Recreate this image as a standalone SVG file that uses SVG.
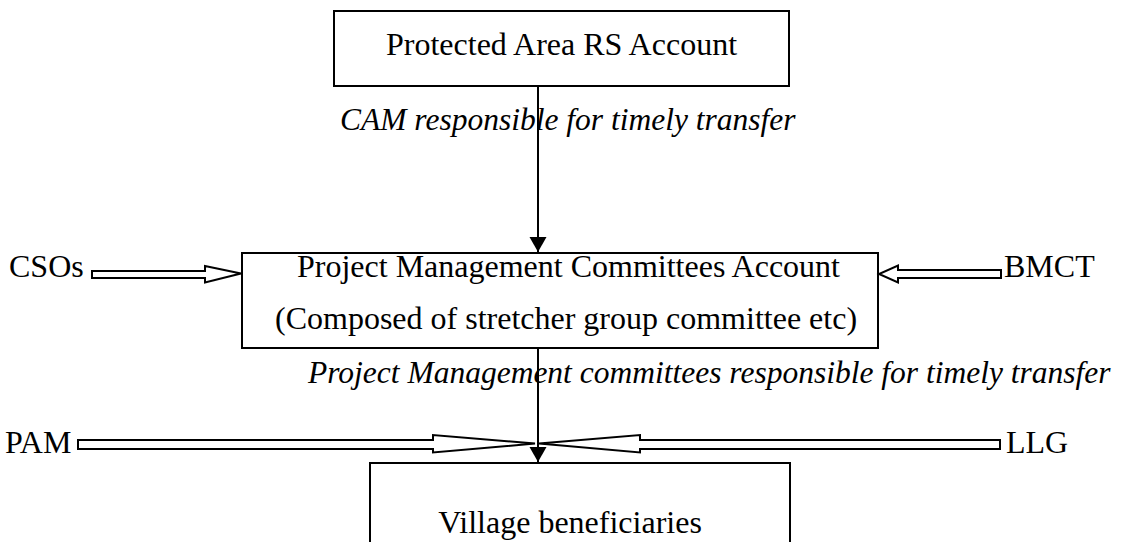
<svg xmlns="http://www.w3.org/2000/svg" width="1122" height="542" viewBox="0 0 1122 542">
<defs>
<style>
.box{fill:#fff;stroke:#000;stroke-width:2}
.t{font-family:"Liberation Serif","Times New Roman",serif;font-size:32px;fill:#000}
.i{font-style:italic;font-size:31.5px}
.line{stroke:#000;stroke-width:2;fill:none}
.hollow{fill:#fff;stroke:#000;stroke-width:2;stroke-linejoin:miter}
</style>
<marker id="ah" markerWidth="15" markerHeight="18" refX="15" refY="9" orient="auto" markerUnits="userSpaceOnUse">
<path d="M0,0.5 L15,9 L0,17.5 Z" fill="#000"/>
</marker>
</defs>
<rect width="1122" height="542" fill="#fff"/>
<g id="top-box">
<rect class="box" x="334" y="11" width="455" height="75"/>
<text class="t" x="561.5" y="55" text-anchor="middle">Protected Area RS Account</text>
</g>
<g id="middle-box">
<rect class="box" x="242" y="253" width="636" height="95"/>
<text class="t" x="297" y="277">Project Management Committees Account</text>
<text class="t" x="275" y="329">(Composed of stretcher group committee etc)</text>
</g>
<g id="bottom-box">
<rect class="box" x="370" y="463" width="420" height="100"/>
<text class="t" x="570" y="533" text-anchor="middle">Village beneficiaries</text>
</g>
<g id="connectors">
<line class="line" x1="538" y1="86" x2="538" y2="252" marker-end="url(#ah)"/>
<line class="line" x1="538" y1="348" x2="538" y2="462" marker-end="url(#ah)"/>
<polygon class="hollow" points="92,271 205,271 205,266 241,273.5 205,282.5 205,278 92,278"/>
<polygon class="hollow" points="1001,270 898,270 898,265.5 879,274 898,282.5 898,278 1001,278"/>
<polygon class="hollow" points="78,440 433,440 433,435 535,443.5 433,452.5 433,449 78,449"/>
<polygon class="hollow" points="1000,440 640,440 640,435 539,443.5 640,452.5 640,449 1000,449"/>
</g>
<g id="label-cam">
<text class="t i" x="340" y="130">CAM responsible for timely transfer</text>
</g>
<g id="label-pmc">
<text class="t i" x="308" y="383">Project Management committees responsible for timely transfer</text>
</g>
<g id="csos"><text class="t" x="9" y="277">CSOs</text></g>
<g id="bmct"><text class="t" x="1004" y="277">BMCT</text></g>
<g id="pam"><text class="t" x="5" y="453">PAM</text></g>
<g id="llg"><text class="t" x="1006" y="453">LLG</text></g>
</svg>
